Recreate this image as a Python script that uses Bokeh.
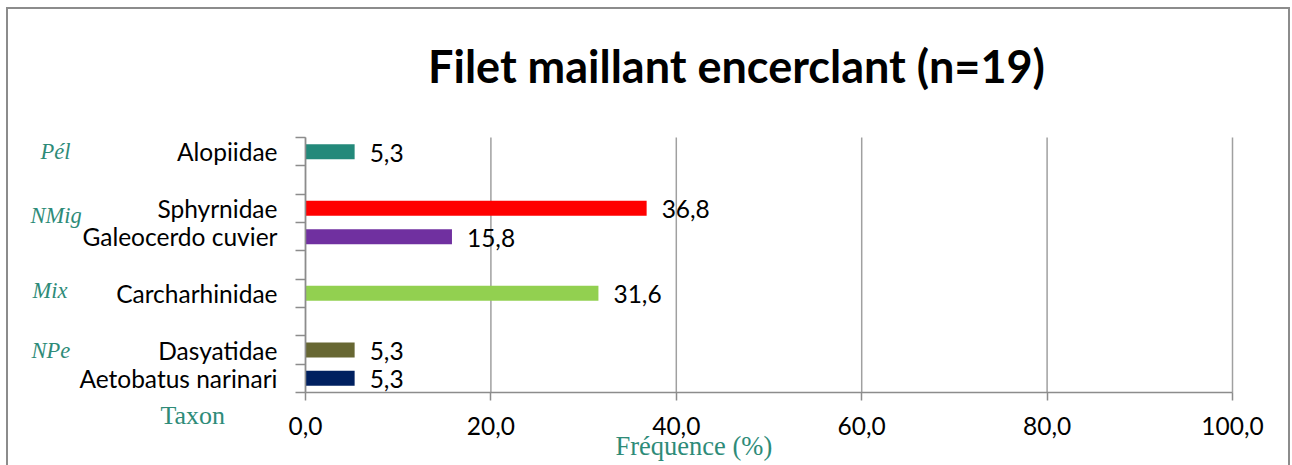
from bokeh.plotting import figure
from bokeh.models import Range1d, FixedTicker, LabelSet, Label, ColumnDataSource, LinearAxis
from bokeh.core.properties import value
from bokeh.embed import file_html
from bokeh.resources import INLINE

# ---- data ----
slots = ["Alopiidae", "", "Sphyrnidae", "Galeocerdo cuvier", "", "Carcharhinidae", "",
         "Dasyatidae", "Aetobatus narinari"]  # top to bottom, blanks are empty category slots
taxa = ["Alopiidae", "Sphyrnidae", "Galeocerdo cuvier", "Carcharhinidae", "Dasyatidae", "Aetobatus narinari"]
freq = [5.3, 36.8, 15.8, 31.6, 5.3, 5.3]
colors = ["#23897A", "#FF0000", "#7030A0", "#92D050", "#676733", "#002060"]
x_ticks = [0, 20, 40, 60, 80, 100]
groups = ["Pél", "NMig", "Mix", "NPe"]
title_text = "Filet maillant encerclant (n=19)"
x_title = "Fréquence (%)"
y_title = "Taxon"

n = len(slots)
ypos = {s: n - i - 0.5 for i, s in enumerate(slots) if s}
src = ColumnDataSource(dict(
    y=[ypos[t] for t in taxa],
    freq=freq,
    color=colors,
    label=[f"{v:.1f}".replace(".", ",") for v in freq],
))

# ---- layout (canvas pixels) ----
W, H = 1284, 458
FL, FR, FT, FB = 299, 1226, 130, 385   # plot area inside the canvas
sx = (FR - FL) / 100.0
sy = (FB - FT) / float(n)
def X(px): return (px - FL) / sx
def Y(py): return (FB - py) / sy

GRAY = "#8c8c8c"
TEAL = "#2E8B78"
FS = "24.5px"

p = figure(width=W, height=H, output_backend="svg", toolbar_location=None,
           x_range=Range1d(X(0), X(W)), y_range=Range1d(Y(H), Y(0)),
           x_axis_type=None, y_axis_type=None, min_border=0)
p.outline_line_color = None
p.background_fill_color = None
p.border_fill_color = None
p.styles = {"background-color": "white", "margin-left": "6px", "margin-top": "7px",
            "box-shadow": "inset 2px 2px 0 0 #8c8c8c, inset -2px 0 0 0 #8c8c8c"}

# vertical gridlines (only inside the plot area)
p.segment(x0=x_ticks, y0=[0] * len(x_ticks), x1=x_ticks, y1=[n] * len(x_ticks),
          line_color="#a0a0a0", line_width=1.5)

p.hbar(y="y", left=0, right="freq", height=0.53, fill_color="color", line_color=None, source=src)

p.add_layout(LabelSet(x="freq", y="y", text="label", source=src, x_offset=15, y_offset=-1,
                      text_baseline="middle", text_font=value("Lato"), text_font_size=value(FS),
                      text_color="black"))

# x axis
xa = LinearAxis(fixed_location=0, bounds=(0, 100), ticker=FixedTicker(ticks=x_ticks))
xa.major_label_overrides = {t: f"{t:.1f}".replace(".", ",") for t in x_ticks}
xa.major_tick_out = 8
xa.major_tick_in = 0
xa.minor_tick_line_color = None
xa.axis_line_color = GRAY
xa.axis_line_width = 1.5
xa.major_tick_line_color = GRAY
xa.major_tick_line_width = 1.5
xa.major_label_standoff = 16
xa.major_label_text_font = "Lato"
xa.major_label_text_font_size = FS
xa.major_label_text_color = "black"
p.add_layout(xa, "below")

# y axis
centers = sorted(ypos.values())
ya = LinearAxis(fixed_location=0, bounds=(0, n),
                ticker=FixedTicker(ticks=centers, minor_ticks=list(range(n + 1))))
ya.major_label_overrides = {v: k for k, v in ypos.items()}
ya.major_tick_line_color = None
ya.major_tick_out = 0
ya.major_tick_in = 0
ya.minor_tick_out = 10
ya.minor_tick_in = 0
ya.minor_tick_line_color = GRAY
ya.minor_tick_line_width = 1.5
ya.axis_line_color = GRAY
ya.axis_line_width = 1.5
ya.major_label_standoff = 18
ya.major_label_text_font = "Lato"
ya.major_label_text_font_size = FS
ya.major_label_text_color = "black"
p.add_layout(ya, "left")

# title
p.add_layout(Label(x=X(730), y=Y(58), text=title_text,
                   text_align="center", text_baseline="alphabetic", text_font="Lato",
                   text_font_style="bold", text_font_size="45px", text_color="black"))

# group labels (italic serif)
group_pos = [(34, 144), (24, 208), (26, 283), (25, 343)]
for g, (gx, gy) in zip(groups, group_pos):
    p.add_layout(Label(x=X(gx), y=Y(gy), text=g,
                       text_align="left", text_baseline="alphabetic",
                       text_font="Liberation Serif", text_font_style="italic",
                       text_font_size="22.5px", text_color=TEAL))

p.add_layout(Label(x=X(154), y=Y(408), text=y_title,
                   text_align="left", text_baseline="alphabetic",
                   text_font="Liberation Serif", text_font_size="26px", text_color=TEAL))
p.add_layout(Label(x=X(609), y=Y(438), text=x_title,
                   text_align="left", text_baseline="alphabetic",
                   text_font="Liberation Serif", text_font_size="26.5px", text_color=TEAL))

open("out.html", "w").write(file_html(p, INLINE))
